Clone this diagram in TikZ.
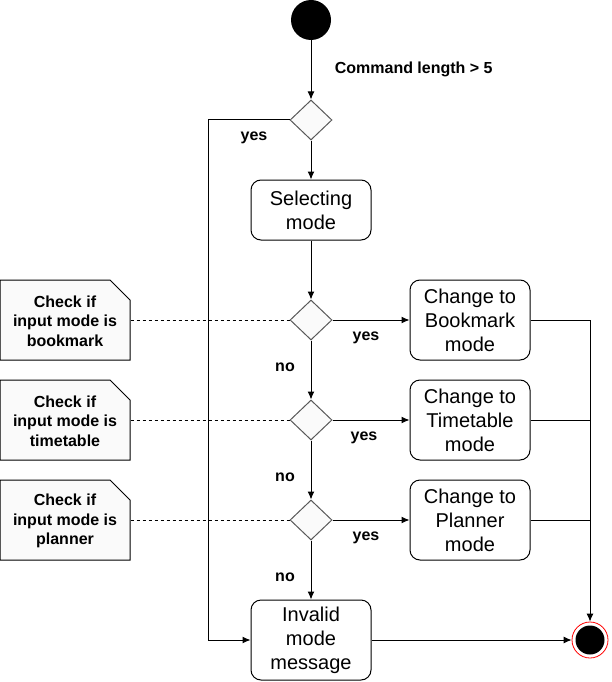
\documentclass[tikz,border=0pt]{standalone}
\usepackage{fontspec}
\setmainfont{Liberation Sans}
\usetikzlibrary{shapes.geometric,arrows.meta}

\begin{document}
\begin{tikzpicture}[x=1pt,y=-1pt,line width=1pt,
  act/.style={draw, rounded corners=10pt, minimum width=120pt, inner sep=0pt, align=center, font=\fontsize{20}{24}\selectfont},
  decide/.style={diamond, draw=black!65, fill=black!2, minimum width=42pt, minimum height=40pt, inner sep=0pt},
  memo/.style={minimum width=130pt, minimum height=80pt, inner sep=0pt, align=center, font=\fontsize{16}{19.5}\selectfont\bfseries},
  lbl/.style={font=\fontsize{16}{19}\selectfont\bfseries},
  flow/.style={-{Latex[length=8pt,width=7pt]}},
  ]
\useasboundingbox (0,0) rectangle (611,682);
% start and end:
\node[circle, fill=black, minimum size=40pt, inner sep=0pt] (start) at (311,20) {};
\node[circle, draw=red, line width=0.8pt, fill=white, minimum size=36pt, inner sep=0pt] (stop) at (590,640) {};
\node[circle, fill=black, minimum size=29pt, inner sep=0pt] at (stop) {};
% middle column:
\node[decide] (d0) at (311,120) {};
\node[act, minimum height=60pt] (sel) at (311,210) {Selecting\\mode};
\node[decide] (d1) at (311,320) {};
\node[decide] (d2) at (311,420) {};
\node[decide] (d3) at (311,520) {};
\node[act, minimum height=80pt] (inv) at (311,640) {Invalid\\mode\\message};
% right column:
\node[act, minimum height=80pt] (bm) at (470,320) {Change to\\Bookmark\\mode};
\node[act, minimum height=80pt] (tt) at (470,420) {Change to\\Timetable\\mode};
\node[act, minimum height=80pt] (pl) at (470,520) {Change to\\Planner\\mode};
% notes:
\foreach \i/\y/\m in {1/320/bookmark, 2/420/timetable, 3/520/planner} {
  \draw[fill=black!2] (0,\y+40) -- (0,\y-40) -- (110,\y-40) -- (130,\y-20) -- (130,\y+40) -- cycle;
  \node[memo] (n\i) at (65,\y+1) {Check if\\input mode is\\\m};
  \draw[dash pattern=on 3pt off 3pt] (n\i.east |- d\i) -- (d\i.west);
}
% connectors:
\draw[flow] (start) -- (d0);
\draw[flow] (d0) -- (sel);
\draw[flow] (sel) -- (d1);
\draw[flow] (d1) -- (d2);
\draw[flow] (d2) -- (d3);
\draw[flow] (d3) -- (inv);
\draw[flow] (d1) -- (bm);
\draw[flow] (d2) -- (tt);
\draw[flow] (d3) -- (pl);
\draw[flow] (d0.west) -- ++(-81,0) |- (inv.west);
\draw[flow] (bm.east) -| (stop.north);
\draw (tt.east) -- (tt.east -| stop.north);
\draw (pl.east) -- (pl.east -| stop.north);
\draw[flow] (inv) -- (stop);
% labels:
\node[lbl, anchor=west] at (331,69) {Command length > 5};
\node[lbl] at (254,138) {yes};
\node[lbl] at (366,338) {yes};
\node[lbl] at (364,438) {yes};
\node[lbl] at (366,538) {yes};
\node[lbl] at (285,367) {no};
\node[lbl] at (285,477) {no};
\node[lbl] at (285,577) {no};
\end{tikzpicture}
\end{document}
